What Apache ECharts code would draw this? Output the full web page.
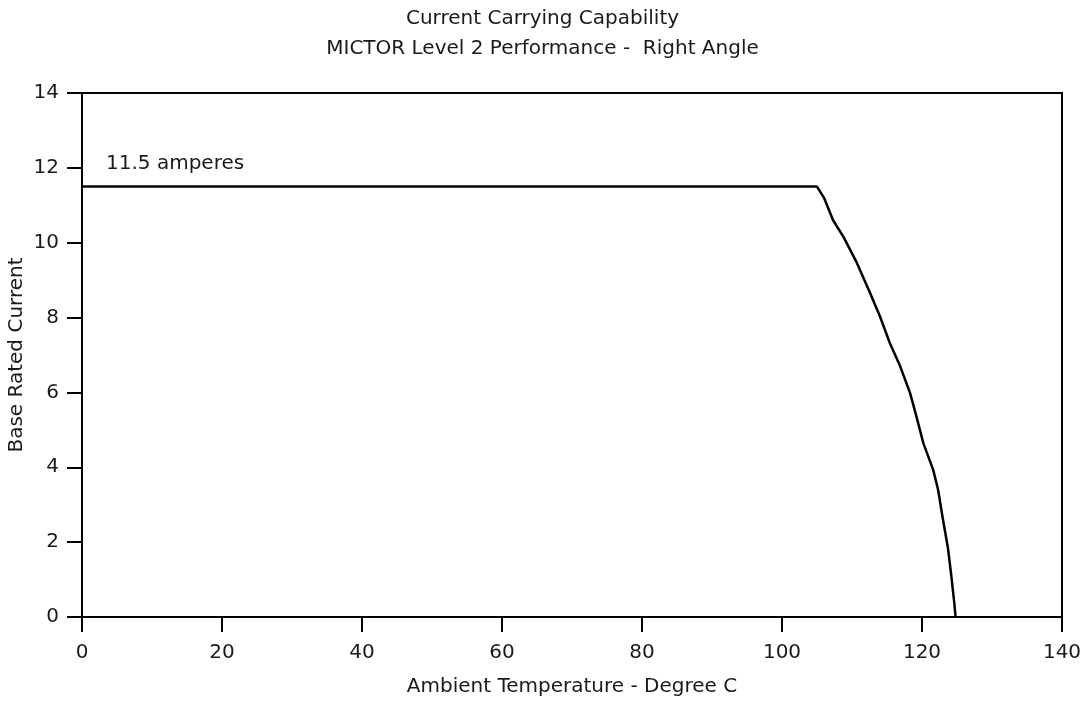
<!DOCTYPE html>
<html><head><meta charset="utf-8">
<script src="https://cdn.jsdelivr.net/npm/echarts@6/dist/echarts.min.js"></script>
<style>html,body{margin:0;padding:0;background:#fff}#c{width:1085px;height:708px}</style>
</head><body><div id="c"></div>
<script>
const titleText = 'Current Carrying Capability';
const subtitleText = 'MICTOR Level 2 Performance -  Right Angle';
const xName = 'Ambient Temperature - Degree C';
const yName = 'Base Rated Current';
const noteText = '11.5 amperes';
const temps =   [0,    105,  106,  107.3, 108.8, 110.7, 112.6, 114,  115.4, 116.9, 118.3, 119.2, 120.2, 121.6, 122.3, 123.0, 123.7, 124.2, 124.6, 124.8];
const current = [11.5, 11.5, 11.2, 10.6,  10.15, 9.46,  8.65,  8.03, 7.32,  6.69,  5.98,  5.36,  4.64,  3.93,  3.40,  2.60,  1.85,  1.08,  0.4,   0];
const font = 'DejaVu Sans, sans-serif';
const txt = '#1a1a1a';
const chart = echarts.init(document.getElementById('c'));
chart.setOption({
  animation: false,
  title: [
    {text: titleText, left: 'center', top: 4, textStyle: {fontFamily: font, fontSize: 20, fontWeight: 'normal', color: txt}},
    {text: subtitleText, left: 'center', top: 34, textStyle: {fontFamily: font, fontSize: 20, fontWeight: 'normal', color: txt}}
  ],
  grid: {left: 82, right: 23, top: 93, bottom: 91, containLabel: false, outerBoundsMode: 'none',
         show: true, borderColor: '#000', borderWidth: 2, backgroundColor: 'transparent'},
  xAxis: {
    type: 'value', min: 0, max: 140, interval: 20,
    name: xName, nameLocation: 'middle', nameGap: 60, nameMoveOverlap: false,
    nameTextStyle: {fontFamily: font, fontSize: 20, color: txt},
    axisLine: {show: true, lineStyle: {color: '#000', width: 2}},
    axisTick: {show: true, length: 15, lineStyle: {color: '#000', width: 2}},
    axisLabel: {fontFamily: font, fontSize: 20, color: txt, margin: 26},
    splitLine: {show: false}
  },
  yAxis: {
    type: 'value', min: 0, max: 14, interval: 2,
    name: yName, nameLocation: 'middle', nameGap: 55, nameMoveOverlap: false,
    nameTextStyle: {fontFamily: font, fontSize: 20, color: txt},
    axisLine: {show: true, lineStyle: {color: '#000', width: 2}},
    axisTick: {show: true, length: 15, lineStyle: {color: '#000', width: 2}},
    axisLabel: {fontFamily: font, fontSize: 20, color: txt, margin: 23},
    splitLine: {show: false}
  },
  graphic: [{type: 'text', left: 106, top: 154, style: {text: noteText, font: '20px ' + font, fill: txt}}],
  series: [{
    type: 'line', data: temps.map((t, i) => [t, current[i]]),
    showSymbol: false, symbol: 'none', smooth: false,
    lineStyle: {color: '#000', width: 2.5}
  }]
});
</script></body></html>
